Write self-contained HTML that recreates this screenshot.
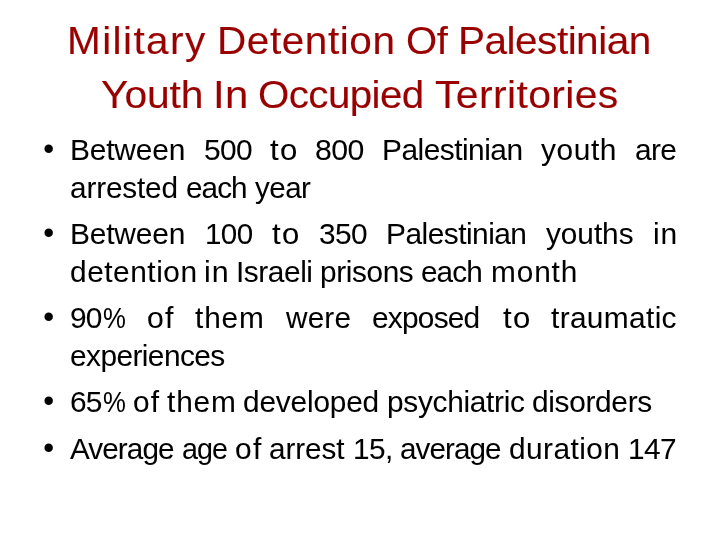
<!DOCTYPE html>
<html lang="en"><head><meta charset="utf-8"><title>Military Detention Of Palestinian Youth In Occupied Territories</title>
<style>
html,body{margin:0;padding:0;background:#fff;}
body{width:720px;height:540px;position:relative;overflow:hidden;font-family:"Liberation Sans",sans-serif;font-variant-ligatures:none;}
h1,ul,li,p{margin:0;padding:0;font-weight:normal;list-style:none;}
.ln{position:absolute;left:0;width:720px;white-space:nowrap;display:block;}
.t .ln{height:54px;line-height:54px;font-size:39.5px;color:#990000;-webkit-text-stroke:0.12px #990000;}
.b .ln{height:39px;line-height:39px;font-size:29px;color:#000;-webkit-text-stroke:0.05px #000;}
.w{position:absolute;top:0;transform-origin:0 50%;display:block;}
.bu{position:absolute;top:-2px;display:block;font-size:31px;}
</style></head><body>
<h1 class="t">
<span class="ln" style="top:13px"><span class="w" style="left:67px;transform:scaleX(1.0268);letter-spacing:1.36px">Military</span> <span class="w" style="left:217px;transform:scaleX(1.0254);letter-spacing:0.56px">Detention</span> <span class="w" style="left:406px;transform:scaleX(1.0124);letter-spacing:-0.37px">Of</span> <span class="w" style="left:458px;transform:scaleX(1.0272);letter-spacing:-0.51px">Palestinian</span></span>
<span class="ln" style="top:67px"><span class="w" style="left:101px;transform:scaleX(1.0321);letter-spacing:-0.06px">Youth</span> <span class="w" style="left:213px;transform:scaleX(1.0613);letter-spacing:0.27px">In</span> <span class="w" style="left:258px;transform:scaleX(1.0206);letter-spacing:-0.58px">Occupied</span> <span class="w" style="left:435px;transform:scaleX(1.0357);letter-spacing:0.36px">Territories</span></span>
</h1>
<ul class="b">
<li>
<span class="ln" style="top:131px"><span class="bu" style="left:43.2px">•</span> <span class="w" style="left:70px;transform:scaleX(1.0313);letter-spacing:-0.18px">Between</span> <span class="w" style="left:204px;transform:scaleX(1.0299);letter-spacing:-0.57px">500</span> <span class="w" style="left:270px;transform:scaleX(1.0758);letter-spacing:1.2px">to</span> <span class="w" style="left:315px;transform:scaleX(1.0433);letter-spacing:-0.57px">800</span> <span class="w" style="left:382px;transform:scaleX(1.0305);letter-spacing:-0.5px">Palestinian</span> <span class="w" style="left:541px;transform:scaleX(1.0310);letter-spacing:0.55px">youth</span> <span class="w" style="left:635px;transform:scaleX(1.0287);letter-spacing:-0.58px">are</span></span>
<span class="ln" style="top:169px"><span class="w" style="left:70px;transform:scaleX(1.0263);letter-spacing:-0.16px">arrested</span> <span class="w" style="left:186px;transform:scaleX(1.0238);letter-spacing:-0.9px">each</span> <span class="w" style="left:255px;transform:scaleX(1.0189);letter-spacing:-0.52px">year</span></span>
</li>
<li>
<span class="ln" style="top:215px"><span class="bu" style="left:43.2px">•</span> <span class="w" style="left:70px;transform:scaleX(1.0313);letter-spacing:-0.18px">Between</span> <span class="w" style="left:205px;transform:scaleX(1.0194);letter-spacing:-0.57px">100</span> <span class="w" style="left:272px;transform:scaleX(1.0738);letter-spacing:1.2px">to</span> <span class="w" style="left:319px;transform:scaleX(1.0284);letter-spacing:-0.57px">350</span> <span class="w" style="left:386px;transform:scaleX(1.0300);letter-spacing:-0.5px">Palestinian</span> <span class="w" style="left:546px;transform:scaleX(1.0260);letter-spacing:-0.03px">youths</span> <span class="w" style="left:653px;transform:scaleX(1.0332);letter-spacing:0.87px">in</span></span>
<span class="ln" style="top:253px"><span class="w" style="left:70px;transform:scaleX(1.0295);letter-spacing:0.51px">detention</span> <span class="w" style="left:204px;transform:scaleX(1.0482);letter-spacing:0.87px">in</span> <span class="w" style="left:236px;transform:scaleX(1.0294);letter-spacing:-0.43px">Israeli</span> <span class="w" style="left:320px;transform:scaleX(1.0270);letter-spacing:-0.37px">prisons</span> <span class="w" style="left:421px;transform:scaleX(1.0243);letter-spacing:-0.9px">each</span> <span class="w" style="left:491px;transform:scaleX(1.0277);letter-spacing:0.84px">month</span></span>
</li>
<li>
<span class="ln" style="top:299px"><span class="bu" style="left:43.2px">•</span> <span class="w" style="left:70.19px;transform:scaleX(1.0300);letter-spacing:-0.77px">90</span><span class="w pc" style="left:102.62px;transform:scaleX(0.8867)">%</span> <span class="w" style="left:147px;transform:scaleX(1.0442);letter-spacing:1.2px">of</span> <span class="w" style="left:195px;transform:scaleX(1.0274);letter-spacing:0.85px">them</span> <span class="w" style="left:286px;transform:scaleX(1.0266);letter-spacing:0.14px">were</span> <span class="w" style="left:372px;transform:scaleX(1.0299);letter-spacing:-0.76px">exposed</span> <span class="w" style="left:503px;transform:scaleX(1.0738);letter-spacing:1.2px">to</span> <span class="w" style="left:551px;transform:scaleX(1.0299);letter-spacing:0.33px">traumatic</span></span>
<span class="ln" style="top:337px"><span class="w" style="left:70px;transform:scaleX(1.0304);letter-spacing:-0.57px">experiences</span></span>
</li>
<li>
<span class="ln" style="top:383px"><span class="bu" style="left:43.2px">•</span> <span class="w" style="left:70.19px;transform:scaleX(1.0300);letter-spacing:-0.77px">65</span><span class="w pc" style="left:102.62px;transform:scaleX(0.8867)">%</span> <span class="w" style="left:133px;transform:scaleX(1.0296);letter-spacing:1.2px">of</span> <span class="w" style="left:167px;transform:scaleX(1.0287);letter-spacing:0.84px">them</span> <span class="w" style="left:243px;transform:scaleX(1.0288);letter-spacing:-0.18px">developed</span> <span class="w" style="left:387px;transform:scaleX(1.0292);letter-spacing:-0.29px">psychiatric</span> <span class="w" style="left:532px;transform:scaleX(1.0304);letter-spacing:-0.33px">disorders</span></span>
</li>
<li>
<span class="ln" style="top:430px"><span class="bu" style="left:43.2px">•</span> <span class="w" style="left:70px;transform:scaleX(1.0233);letter-spacing:-0.9px">Average</span> <span class="w" style="left:182px;transform:scaleX(0.9878);letter-spacing:-0.9px">age</span> <span class="w" style="left:235px;transform:scaleX(1.0328);letter-spacing:1.2px">of</span> <span class="w" style="left:269px;transform:scaleX(1.0233);letter-spacing:-0.07px">arrest</span> <span class="w" style="left:353px;transform:scaleX(1.0256);letter-spacing:-0.54px">15,</span> <span class="w" style="left:400px;transform:scaleX(1.0207);letter-spacing:-0.9px">average</span> <span class="w" style="left:509px;transform:scaleX(1.0290);letter-spacing:0.41px">duration</span> <span class="w" style="left:628px;transform:scaleX(1.0267);letter-spacing:-0.58px">147</span></span>
</li>
</ul>
</body></html>
